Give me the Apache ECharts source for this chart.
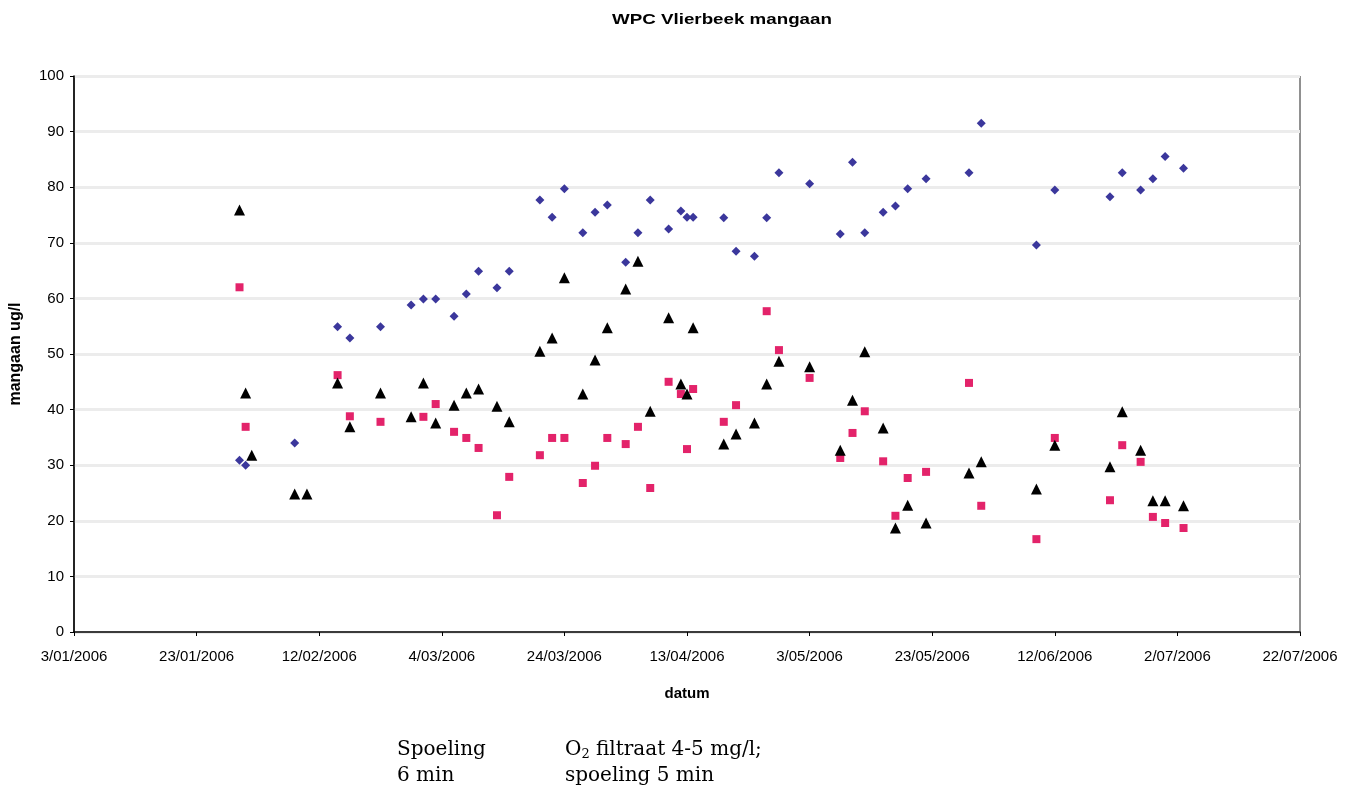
<!DOCTYPE html>
<html>
<head>
<meta charset="utf-8">
<title>WPC Vlierbeek mangaan</title>
<script src="https://cdn.jsdelivr.net/npm/echarts@6/dist/echarts.min.js"></script>
<style>
  html, body { margin: 0; padding: 0; background: #fff; }
  #chart { width: 1353px; height: 792px; }
</style>
</head>
<body>
<div id="chart"></div>
<script>
// Measurement dates and manganese concentrations (ug/l) per series
const diamondDates = ['2006-01-30','2006-01-31','2006-02-08','2006-02-15','2006-02-17','2006-02-22','2006-02-27','2006-03-01','2006-03-03','2006-03-06','2006-03-08','2006-03-10','2006-03-13','2006-03-15','2006-03-20','2006-03-22','2006-03-24','2006-03-27','2006-03-29','2006-03-31','2006-04-03','2006-04-05','2006-04-07','2006-04-10','2006-04-12','2006-04-13','2006-04-14','2006-04-19','2006-04-21','2006-04-24','2006-04-26','2006-04-28','2006-05-03','2006-05-08','2006-05-10','2006-05-12','2006-05-15','2006-05-17','2006-05-19','2006-05-22','2006-05-29','2006-05-31','2006-06-09','2006-06-12','2006-06-21','2006-06-23','2006-06-26','2006-06-28','2006-06-30','2006-07-03'];
const diamondValues = [30.9,30.0,34.0,54.9,52.9,54.9,58.8,59.9,59.9,56.8,60.8,64.9,61.9,64.9,77.7,74.6,79.7,71.8,75.5,76.8,66.5,71.8,77.7,72.5,75.7,74.6,74.6,74.5,68.5,67.6,74.5,82.6,80.6,71.6,84.5,71.8,75.5,76.6,79.7,81.5,82.6,91.5,69.6,79.5,78.3,82.6,79.5,81.5,85.5,83.4];

const squareDates = ['2006-01-30','2006-01-31','2006-02-15','2006-02-17','2006-02-22','2006-03-01','2006-03-03','2006-03-06','2006-03-08','2006-03-10','2006-03-13','2006-03-15','2006-03-20','2006-03-22','2006-03-24','2006-03-27','2006-03-29','2006-03-31','2006-04-03','2006-04-05','2006-04-07','2006-04-10','2006-04-12','2006-04-13','2006-04-14','2006-04-19','2006-04-21','2006-04-26','2006-04-28','2006-05-03','2006-05-08','2006-05-10','2006-05-12','2006-05-15','2006-05-17','2006-05-19','2006-05-22','2006-05-29','2006-05-31','2006-06-09','2006-06-12','2006-06-21','2006-06-23','2006-06-26','2006-06-28','2006-06-30','2006-07-03'];
const squareValues = [62.0,36.9,46.2,38.8,37.8,38.7,41.0,36.0,34.9,33.1,21.0,27.9,31.8,34.9,34.9,26.8,29.9,34.9,33.8,36.9,25.9,45.0,42.8,32.9,43.7,37.8,40.8,57.7,50.7,45.7,31.3,35.8,39.7,30.7,20.9,27.7,28.8,44.8,22.7,16.7,34.9,23.7,33.6,30.6,20.7,19.6,18.7];

const triangleDates = ['2006-01-30','2006-01-31','2006-02-01','2006-02-08','2006-02-10','2006-02-15','2006-02-17','2006-02-22','2006-02-27','2006-03-01','2006-03-03','2006-03-06','2006-03-08','2006-03-10','2006-03-13','2006-03-15','2006-03-20','2006-03-22','2006-03-24','2006-03-27','2006-03-29','2006-03-31','2006-04-03','2006-04-05','2006-04-07','2006-04-10','2006-04-12','2006-04-13','2006-04-14','2006-04-19','2006-04-21','2006-04-24','2006-04-26','2006-04-28','2006-05-03','2006-05-08','2006-05-10','2006-05-12','2006-05-15','2006-05-17','2006-05-19','2006-05-22','2006-05-29','2006-05-31','2006-06-09','2006-06-12','2006-06-21','2006-06-23','2006-06-26','2006-06-28','2006-06-30','2006-07-03'];
const triangleValues = [75.9,43.0,31.8,24.8,24.8,44.8,36.9,43.0,38.7,44.8,37.6,40.8,43.0,43.7,40.6,37.8,50.5,52.9,63.7,42.8,48.9,54.7,61.7,66.7,39.7,56.5,44.6,42.8,54.7,33.8,35.6,37.6,44.6,48.7,47.7,32.7,41.7,50.4,36.7,18.7,22.8,19.6,28.6,30.6,25.7,33.6,29.7,39.6,32.7,23.6,23.6,22.7];

// Date axis: days counted from the first axis date, one tick label every 20 days
const axisStartDate = '2006-01-03';
const axisDayCount = 200;
const axisDayStep = 20;

const DAY_MS = 86400000;
const startMs = Date.parse(axisStartDate + 'T00:00:00Z');

function dayOffset(iso) {
  return Math.round((Date.parse(iso + 'T00:00:00Z') - startMs) / DAY_MS);
}
function dayLabel(offset) {
  const d = new Date(startMs + offset * DAY_MS);
  const mm = String(d.getUTCMonth() + 1).padStart(2, '0');
  return d.getUTCDate() + '/' + mm + '/' + d.getUTCFullYear();
}
function pairs(dates, values) {
  return dates.map((iso, i) => [dayOffset(iso), values[i]]);
}

const FONT = '"Liberation Sans", Arial, sans-serif';
const SERIF = '"DejaVu Serif", "Liberation Serif", serif';

const chart = echarts.init(document.getElementById('chart'), null, { renderer: 'canvas' });

chart.setOption({
  animation: false,
  backgroundColor: '#ffffff',
  grid: {
    left: 73, right: 53, top: 76, bottom: 160,
    show: true, borderColor: '#222', borderWidth: 1, backgroundColor: 'transparent'
  },
  xAxis: {
    type: 'value',
    min: 0,
    max: axisDayCount,
    interval: axisDayStep,
    name: 'datum',
    nameLocation: 'middle',
    nameGap: 54,
    nameTextStyle: { fontFamily: FONT, fontSize: 15, fontWeight: 'bold', color: '#000' },
    axisLine: { onZero: false, lineStyle: { color: '#000', width: 1.5 } },
    axisTick: { show: true, length: 4, lineStyle: { color: '#000' } },
    axisLabel: {
      fontFamily: FONT, fontSize: 15, color: '#000', margin: 17,
      formatter: v => dayLabel(v)
    },
    splitLine: { show: false }
  },
  yAxis: {
    type: 'value',
    min: 0,
    max: 100,
    interval: 10,
    name: 'mangaan ug/l',
    nameLocation: 'middle',
    nameGap: 50,
    nameRotate: 90,
    nameTextStyle: { fontFamily: FONT, fontSize: 16, fontWeight: 'bold', color: '#000' },
    axisLine: { show: true, lineStyle: { color: '#000', width: 1.5 } },
    axisTick: { show: true, length: 4, lineStyle: { color: '#000' } },
    axisLabel: { fontFamily: FONT, fontSize: 15, color: '#000', margin: 10 },
    splitLine: { show: true, lineStyle: { color: '#ececec', width: 3 } }
  },
  series: [
    {
      name: 'ruw',
      type: 'scatter',
      symbol: 'diamond',
      symbolSize: 9,
      itemStyle: { color: '#3b379c', opacity: 1 },
      data: pairs(diamondDates, diamondValues)
    },
    {
      name: 'filtraat',
      type: 'scatter',
      symbol: 'rect',
      symbolSize: 8,
      itemStyle: { color: '#e3236a', opacity: 1 },
      data: pairs(squareDates, squareValues)
    },
    {
      name: 'reinwater',
      type: 'scatter',
      symbol: 'triangle',
      symbolSize: 11,
      itemStyle: { color: '#000000', opacity: 1 },
      data: pairs(triangleDates, triangleValues)
    }
  ],
  graphic: [
    {
      // chart title, drawn slightly widened
      type: 'text', x: 722, y: 20, scaleX: 1.25, originX: 0, originY: 0,
      style: {
        text: 'WPC Vlierbeek mangaan', font: 'bold 15px ' + FONT, fill: '#000',
        textAlign: 'center', textVerticalAlign: 'middle'
      }
    },
    {
      type: 'text', x: 397, y: 750,
      style: { text: 'Spoeling', font: '20px ' + SERIF, fill: '#000', textVerticalAlign: 'middle' }
    },
    {
      type: 'text', x: 397, y: 776,
      style: { text: '6 min', font: '20px ' + SERIF, fill: '#000', textVerticalAlign: 'middle' }
    },
    {
      type: 'text', x: 565, y: 750,
      style: {
        text: '{n|O}{s|2}{n| filtraat 4-5 mg/l;}',
        textVerticalAlign: 'middle',
        rich: {
          n: { fontFamily: SERIF, fontSize: 20, fill: '#000', lineHeight: 24 },
          s: { fontFamily: SERIF, fontSize: 13, fill: '#000', lineHeight: 24, padding: [10, 0, 0, 0] }
        }
      }
    },
    {
      type: 'text', x: 565, y: 776,
      style: { text: 'spoeling 5 min', font: '20px ' + SERIF, fill: '#000', textVerticalAlign: 'middle' }
    }
  ]
});
</script>
</body>
</html>
